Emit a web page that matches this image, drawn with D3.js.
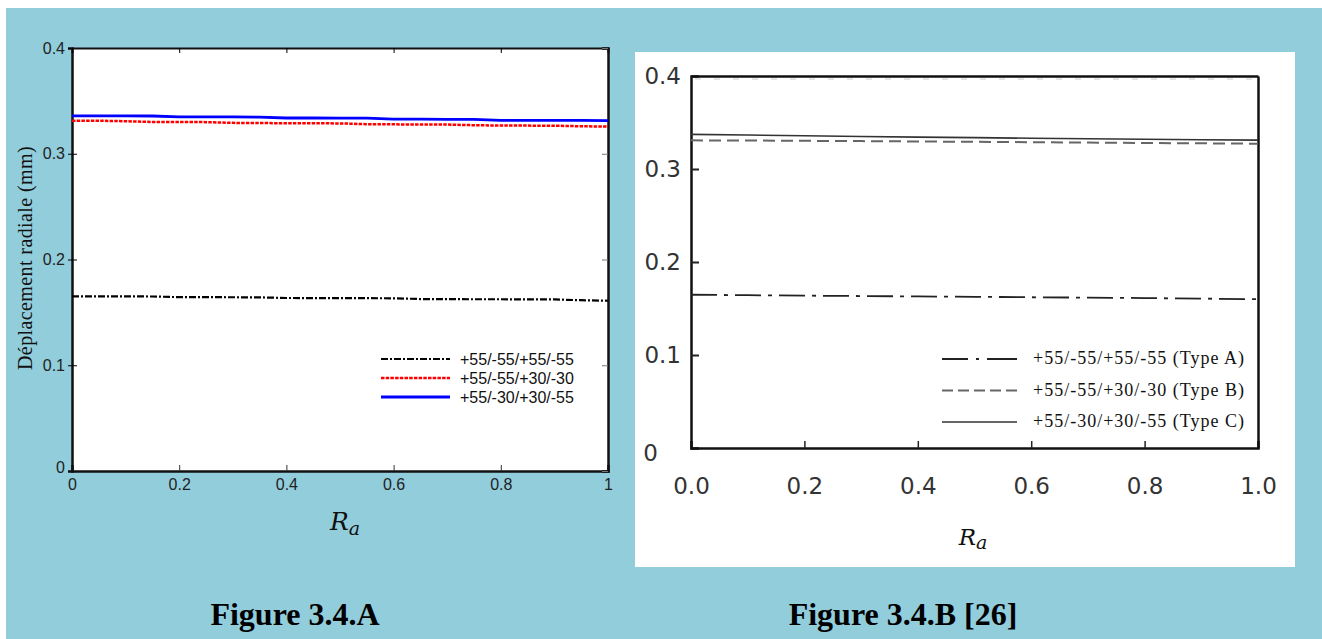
<!DOCTYPE html>
<html>
<head>
<meta charset="utf-8">
<script src="https://cdn.jsdelivr.net/npm/d3@7"></script>
<style>
  body { margin: 0; background: #ffffff; }
  svg { display: block; }
</style>
</head>
<body>
<svg id="chart" width="1322" height="639"></svg>
<script>
// R_a sample positions (both figures)
const ra = [0, 0.05, 0.1, 0.15, 0.2, 0.25, 0.3, 0.35, 0.4, 0.45, 0.5,
            0.55, 0.6, 0.65, 0.7, 0.75, 0.8, 0.85, 0.9, 0.95, 1];

// Figure 3.4.A series (mm)
const leftA = [0.1652, 0.1652, 0.1652, 0.1650, 0.1644, 0.1644, 0.1643, 0.1642, 0.1636, 0.1635, 0.1635,
               0.1634, 0.1633, 0.1626, 0.1625, 0.1624, 0.1624, 0.1623, 0.1622, 0.1615, 0.1610];
const leftB = [0.3312, 0.3312, 0.3308, 0.3300, 0.3300, 0.3299, 0.3292, 0.3290, 0.3289, 0.3288, 0.3287,
               0.3280, 0.3278, 0.3277, 0.3276, 0.3270, 0.3267, 0.3266, 0.3265, 0.3260, 0.3257];
const leftC = [0.3358, 0.3358, 0.3358, 0.3357, 0.3348, 0.3348, 0.3348, 0.3347, 0.3338, 0.3338, 0.3337,
               0.3336, 0.3327, 0.3327, 0.3326, 0.3325, 0.3316, 0.3316, 0.3315, 0.3315, 0.3314];

const rightRa = [0, 0.1, 0.2, 0.3, 0.4, 0.5, 0.6, 0.7, 0.8, 0.9, 1];
const rightA = [0.1648, 0.1643, 0.1638, 0.1634, 0.1630, 0.1626, 0.1621, 0.1617, 0.1612, 0.1606, 0.1600];
const rightB = [0.3308, 0.3306, 0.3303, 0.3300, 0.3296, 0.3292, 0.3288, 0.3284, 0.3280, 0.3276, 0.3272];
const rightC = [0.3372, 0.3365, 0.3358, 0.3350, 0.3343, 0.3337, 0.3331, 0.3326, 0.3320, 0.3315, 0.3310];

const leftLabels = ["+55/-55/+55/-55", "+55/-55/+30/-30", "+55/-30/+30/-55"];
const rightLabels = ["+55/-55/+55/-55 (Type A)", "+55/-55/+30/-30 (Type B)", "+55/-30/+30/-55 (Type C)"];
const yTicks = [0, 0.1, 0.2, 0.3, 0.4];
const xTicks = [0, 0.2, 0.4, 0.6, 0.8, 1];

const svg = d3.select("#chart");

svg.append("rect").attr("x", 6).attr("y", 8).attr("width", 1316).attr("height", 631)
  .attr("fill", "#92cddc");

// ---------------- Figure 3.4.A ----------------
const xl = d3.scaleLinear().domain([0, 1]).range([72, 608]);
const yl = d3.scaleLinear().domain([0, 0.4]).range([471, 48]);
const fmtL = d => d === 0 || d === 1 ? String(d) : d3.format(".1f")(d);

const gl = svg.append("g").attr("class", "fig-a");
gl.append("rect").attr("x", xl(0)).attr("y", yl(0.4))
  .attr("width", xl(1) - xl(0)).attr("height", yl(0) - yl(0.4)).attr("fill", "#fff");

function styleAxis(g, font, size, color) {
  g.selectAll("text").attr("font-family", font).attr("font-size", size).attr("fill", color);
}

let ax = gl.append("g").attr("transform", `translate(0,${yl(0)})`)
  .call(d3.axisBottom(xl).tickValues(xTicks).tickSize(-6).tickPadding(8).tickFormat(fmtL));
styleAxis(ax, "Liberation Sans, Arial", 16, "#222");
ax.selectAll("line").attr("stroke", "#333");
ax.select(".domain").attr("stroke", "#111").attr("stroke-width", 2.5);

ax = gl.append("g").attr("transform", `translate(${xl(0)},0)`)
  .call(d3.axisLeft(yl).tickValues(yTicks).tickSize(4).tickPadding(3).tickFormat(fmtL));
styleAxis(ax, "Liberation Sans, Arial", 16, "#222");
ax.select(".domain").attr("stroke", "#111").attr("stroke-width", 2.5);
ax.selectAll(".tick").filter(d => d === 0).select("line").remove();
ax.selectAll(".tick text").filter(d => d === 0).attr("dy", "0.1em");
gl.append("g").attr("transform", `translate(${xl(0)},0)`)
  .call(d3.axisLeft(yl).tickValues(yTicks.slice(1, 4)).tickSize(-5).tickFormat(""))
  .select(".domain").remove();

ax = gl.append("g").attr("transform", `translate(0,${yl(0.4)})`)
  .call(d3.axisTop(xl).tickValues(xTicks).tickSize(-5).tickFormat(""));
ax.select(".domain").attr("stroke", "#111").attr("stroke-width", 2);

ax = gl.append("g").attr("transform", `translate(${xl(1)},0)`)
  .call(d3.axisRight(yl).tickValues(yTicks).tickSize(-6).tickFormat(""));
ax.selectAll("line").attr("stroke", "#777");
ax.select(".domain").attr("stroke", "#111").attr("stroke-width", 2.5);

const lineL = d3.line().x((d, i) => xl(ra[i])).y(d => yl(d));
const leftStyles = [
  { color: "#000", width: 2.2, dash: "7,2,2,2" },
  { color: "#ff0000", width: 2.5, dash: "3.5,1.2" },
  { color: "#0000ff", width: 2.8, dash: null }
];
[leftA, leftB, leftC].forEach((s, k) => {
  gl.append("path").datum(s).attr("d", lineL).attr("fill", "none")
    .attr("stroke", leftStyles[k].color).attr("stroke-width", leftStyles[k].width)
    .attr("stroke-dasharray", leftStyles[k].dash);
});

// legend
leftLabels.forEach((t, k) => {
  const y = 359 + k * 19;
  gl.append("line").attr("x1", 381).attr("x2", 450).attr("y1", y).attr("y2", y)
    .attr("stroke", leftStyles[k].color).attr("stroke-width", leftStyles[k].width)
    .attr("stroke-dasharray", leftStyles[k].dash);
  gl.append("text").attr("x", 460).attr("y", y + 6).text(t)
    .attr("font-family", "Liberation Sans, Arial").attr("font-size", 16).attr("fill", "#111");
});

gl.append("text").attr("transform", "translate(32,258) rotate(-90)")
  .attr("text-anchor", "middle").attr("font-family", "Liberation Serif, Times New Roman")
  .attr("font-size", 20).attr("letter-spacing", 0.4).attr("fill", "#111")
  .text("Déplacement radiale (mm)");

function raLabel(g, x, y, big, small, shift) {
  const t = g.append("text").attr("x", x).attr("y", y).attr("text-anchor", "middle")
    .attr("font-family", "DejaVu Serif, Liberation Serif").attr("font-style", "italic")
    .attr("fill", "#111");
  t.append("tspan").attr("font-size", big).text("R");
  t.append("tspan").attr("font-size", small).attr("dy", shift).text("a");
}
raLabel(gl, 345, 530, 25, 19, 5);

gl.append("text").attr("x", 295).attr("y", 625).attr("text-anchor", "middle")
  .attr("font-family", "Liberation Serif, Times New Roman").attr("font-weight", "bold")
  .attr("font-size", 32).attr("fill", "#000").text("Figure 3.4.A");

// ---------------- Figure 3.4.B ----------------
const gr = svg.append("g").attr("class", "fig-b");
gr.append("rect").attr("x", 635).attr("y", 52).attr("width", 660).attr("height", 515).attr("fill", "#fff");

const xr = d3.scaleLinear().domain([0, 1]).range([691, 1258]);
const yr = d3.scaleLinear().domain([0, 0.4]).range([448, 76]);

ax = gr.append("g").attr("transform", `translate(0,${yr(0)})`)
  .call(d3.axisBottom(xr).tickValues(xTicks).tickSize(-7).tickPadding(30).tickFormat(d3.format(".1f")));
styleAxis(ax, "DejaVu Sans, Verdana", 23, "#333");
ax.selectAll("line").attr("stroke", "#222").attr("stroke-width", 1.5);
ax.select(".domain").attr("stroke", "#111").attr("stroke-width", 2.5);
ax.selectAll(".tick").filter(d => d === 0 || d === 1).select("line").remove();

ax = gr.append("g").attr("transform", `translate(${xr(0)},0)`)
  .call(d3.axisLeft(yr).tickValues(yTicks).tickSize(-8).tickPadding(10)
    .tickFormat(d => d === 0 ? "0" : d3.format(".1f")(d)));
styleAxis(ax, "DejaVu Sans, Verdana", 23, "#333");
ax.selectAll("line").attr("stroke", "#222").attr("stroke-width", 2);
ax.select(".domain").attr("stroke", "#111").attr("stroke-width", 2.5);
ax.selectAll(".tick").filter(d => d === 0 || d === 0.4).select("line").remove();
ax.selectAll(".tick text").filter(d => d === 0).attr("x", -33).attr("dy", "0.55em");

ax = gr.append("g").attr("transform", `translate(0,${yr(0.4)})`)
  .call(d3.axisTop(xr).tickValues([]).tickSizeOuter(0));
ax.select(".domain").attr("stroke", "#111").attr("stroke-width", 2.5);
gr.append("line").attr("x1", xr(0) + 4).attr("x2", xr(1) - 4)
  .attr("y1", yr(0.4) + 3).attr("y2", yr(0.4) + 3)
  .attr("stroke", "#ccc").attr("stroke-width", 1.2).attr("stroke-dasharray", "6,13");

ax = gr.append("g").attr("transform", `translate(${xr(1)},0)`)
  .call(d3.axisRight(yr).tickValues([]).tickSizeOuter(0));
ax.select(".domain").attr("stroke", "#111").attr("stroke-width", 2.5);

const lineR = d3.line().x((d, i) => xr(rightRa[i])).y(d => yr(d));
const rightStyles = [
  { color: "#222", width: 1.8, dash: "26,7,4,7" },
  { color: "#666", width: 2, dash: "12,6" },
  { color: "#333", width: 1.6, dash: null }
];
[rightA, rightB, rightC].forEach((s, k) => {
  gr.append("path").datum(s).attr("d", lineR).attr("fill", "none")
    .attr("stroke", rightStyles[k].color).attr("stroke-width", rightStyles[k].width)
    .attr("stroke-dasharray", rightStyles[k].dash);
});

rightLabels.forEach((t, k) => {
  const y = 359 + k * 31.5;
  gr.append("line").attr("x1", 942).attr("x2", 1017).attr("y1", y).attr("y2", y)
    .attr("stroke", rightStyles[k].color).attr("stroke-width", rightStyles[k].width)
    .attr("stroke-dasharray", k === 0 ? "26,8,3,8,30" : (k === 1 ? "11,5" : null));
  gr.append("text").attr("x", 1033).attr("y", y + 5).text(t)
    .attr("font-family", "Liberation Serif, Times New Roman").attr("font-size", 18)
    .attr("letter-spacing", 1).attr("fill", "#111");
});

raLabel(gr, 973, 545, 23, 19, 4);

gr.append("text").attr("x", 903).attr("y", 625).attr("text-anchor", "middle")
  .attr("font-family", "Liberation Serif, Times New Roman").attr("font-weight", "bold")
  .attr("font-size", 32).attr("fill", "#000").text("Figure 3.4.B [26]");
</script>
</body>
</html>
